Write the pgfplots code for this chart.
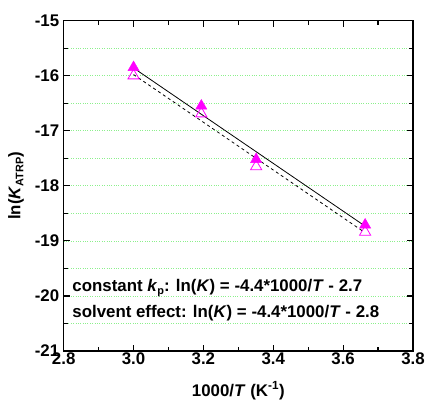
\documentclass[border=0pt]{standalone}
\usepackage{pgfplots}
\pgfplotsset{compat=1.18}
\usepackage{fontspec}
\setmainfont{Liberation Sans}
\definecolor{mag}{RGB}{255,0,255}
\definecolor{gridg}{RGB}{140,240,140}
\newcommand{\sub}[1]{\raisebox{-0.35ex}{\fontsize{11}{12}\selectfont\bfseries #1}}
\newcommand{\B}[1]{{\fontsize{17}{19}\selectfont\bfseries #1}}
\begin{document}
\begin{tikzpicture}
\begin{axis}[
  name=ax,
  width=351bp, height=332bp, scale only axis,
  xmin=2.8, xmax=3.8, ymin=-21, ymax=-15,
  xtick={2.8,3.0,3.2,3.4,3.6,3.8},
  xticklabels={\B{2.8},\B{3.0},\B{3.2},\B{3.4},\B{3.6},\B{3.8}},
  ytick={-21,-20,-19,-18,-17,-16,-15},
  yticklabels={\B{-21},\B{-20},\B{-19},\B{-18},\B{-17},\B{-16},\B{-15}},
  minor x tick num=1, minor y tick num=1,
  label style={font=\fontsize{17}{19}\selectfont\bfseries},
  xticklabel style={yshift=2bp},
  yticklabel style={xshift=-1bp},
  tick align=inside,
  major tick length=6bp, minor tick length=4bp,
  axis line style={line width=1.6bp},
  every tick/.style={line width=1.2bp, black},
  ymajorgrids, yminorgrids,
  major grid style={gridg, dotted, line width=0.6bp},
  minor grid style={gridg, dotted, line width=0.6bp},
  xlabel={1000/\textit{T} (K\textsuperscript{-1})},
  ylabel={ln(\textit{K}\sub{ATRP})},
  xlabel style={at={(axis description cs:0.5,0)}, anchor=center, yshift=-40bp},
  ylabel style={at={(axis description cs:0,0.5)}, anchor=center, yshift=48bp},
  clip=false,
]
\addplot[black, line width=0.8bp] coordinates {(3.0,-15.86) (3.66,-18.72)};
\addplot[black, dashed, line width=0.8bp] coordinates {(3.0,-15.98) (3.66,-18.84)};
\addplot[only marks, mark=triangle, mark size=6.5pt, mag, mark options={line width=0.8bp}] coordinates {
(3.0,-16.0) (3.194,-16.69) (3.351,-17.65) (3.663,-18.84)};
\addplot[only marks, mark=triangle*, mark size=6.5pt, mag, mark options={fill=mag}] coordinates {
(3.0,-15.85) (3.194,-16.55) (3.351,-17.52) (3.663,-18.71)};
\node[anchor=west, font=\fontsize{17}{19}\selectfont\bfseries] at (axis cs:2.815,-19.85) {constant \textit{k}\sub{p}: ln(\textit{K}) = -4.4*1000/\textit{T} - 2.7};
\node[anchor=west, font=\fontsize{17}{19}\selectfont\bfseries] at (axis cs:2.815,-20.32) {solvent effect: ln(\textit{K}) = -4.4*1000/\textit{T} - 2.8};
\end{axis}
\path (ax.south west) ++(-64bp,-59.3bp);
\path (ax.north east) ++(13.3bp,20.7bp);
\end{tikzpicture}
\end{document}
